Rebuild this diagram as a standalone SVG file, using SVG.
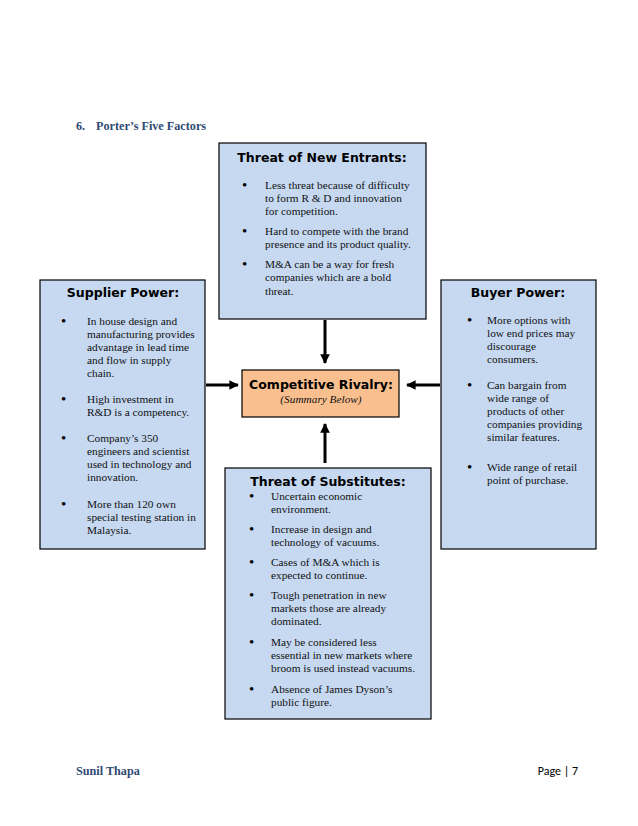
<svg xmlns="http://www.w3.org/2000/svg" width="638" height="826" viewBox="0 0 638 826">
<style>
.box{fill:#C6D9F1;stroke:#000;stroke-width:1.2}
.rival{fill:#F9BF8F;stroke:#000;stroke-width:1.2}
.hd{font-family:"DejaVu Sans",Verdana,sans-serif;font-weight:bold;font-size:12.5px;fill:#000;text-anchor:middle}
.tx{font-family:"Liberation Serif","Times New Roman",serif;font-size:11.3px;fill:#111}
.bl{font-family:"Liberation Serif","Times New Roman",serif;font-size:15px;fill:#000}
.ttl{font-family:"Liberation Serif","Times New Roman",serif;font-weight:bold;font-size:12.2px;fill:#2E4A72}
.conn{stroke:#000;stroke-width:3;fill:none}
</style>
<defs>
<marker id="ah" viewBox="0 0 10 10" refX="9" refY="5" markerWidth="3.2" markerHeight="3.2" orient="auto" markerUnits="strokeWidth">
<path d="M0,0 L10,5 L0,10 z" fill="#000"/>
</marker>
</defs>
<rect width="638" height="826" fill="#fff"/>
<text class="ttl" x="76" y="130">6.<tspan x="96">Porter’s Five Factors</tspan></text>

<g id="connectors">
<line class="conn" x1="325" y1="320" x2="325" y2="363" marker-end="url(#ah)"/>
<line class="conn" x1="206" y1="385" x2="238" y2="385" marker-end="url(#ah)"/>
<line class="conn" x1="440" y1="385" x2="407" y2="385" marker-end="url(#ah)"/>
<line class="conn" x1="325" y1="463" x2="325" y2="424" marker-end="url(#ah)"/>
</g>

<g id="new-entrants">
<rect class="box" x="219" y="143" width="207" height="176"/>
<text class="hd" x="322" y="162">Threat of New Entrants:</text>
<text class="bl" x="242" y="190">•</text>
<text class="tx" x="265" y="189">Less threat because of difficulty</text>
<text class="tx" x="265" y="202">to form R &amp; D and innovation</text>
<text class="tx" x="265" y="215">for competition.</text>
<text class="bl" x="242" y="236">•</text>
<text class="tx" x="265" y="235">Hard to compete with the brand</text>
<text class="tx" x="265" y="248">presence and its product quality.</text>
<text class="bl" x="242" y="269">•</text>
<text class="tx" x="265" y="268">M&amp;A can be a way for fresh</text>
<text class="tx" x="265" y="281">companies which are a bold</text>
<text class="tx" x="265" y="295">threat.</text>
</g>

<g id="supplier">
<rect class="box" x="40" y="280" width="165" height="269"/>
<text class="hd" x="123" y="297">Supplier Power:</text>
<text class="bl" x="61" y="326">•</text>
<text class="tx" x="87" y="325">In house design and</text>
<text class="tx" x="87" y="338">manufacturing provides</text>
<text class="tx" x="87" y="351">advantage in lead time</text>
<text class="tx" x="87" y="364">and flow in supply</text>
<text class="tx" x="87" y="377">chain.</text>
<text class="bl" x="61" y="404">•</text>
<text class="tx" x="87" y="403">High investment in</text>
<text class="tx" x="87" y="416">R&amp;D is a competency.</text>
<text class="bl" x="61" y="443">•</text>
<text class="tx" x="87" y="442">Company’s 350</text>
<text class="tx" x="87" y="455">engineers and scientist</text>
<text class="tx" x="87" y="468">used in technology and</text>
<text class="tx" x="87" y="481">innovation.</text>
<text class="bl" x="61" y="509">•</text>
<text class="tx" x="87" y="508">More than 120 own</text>
<text class="tx" x="87" y="521">special testing station in</text>
<text class="tx" x="87" y="534">Malaysia.</text>
</g>

<g id="buyer">
<rect class="box" x="441" y="280" width="155" height="269"/>
<text class="hd" x="518" y="297">Buyer Power:</text>
<text class="bl" x="467" y="325">•</text>
<text class="tx" x="487" y="324">More options with</text>
<text class="tx" x="487" y="337">low end prices may</text>
<text class="tx" x="487" y="350">discourage</text>
<text class="tx" x="487" y="363">consumers.</text>
<text class="bl" x="467" y="390">•</text>
<text class="tx" x="487" y="389">Can bargain from</text>
<text class="tx" x="487" y="402">wide range of</text>
<text class="tx" x="487" y="415">products of other</text>
<text class="tx" x="487" y="428">companies providing</text>
<text class="tx" x="487" y="441">similar features.</text>
<text class="bl" x="467" y="472">•</text>
<text class="tx" x="487" y="471">Wide range of retail</text>
<text class="tx" x="487" y="484">point of purchase.</text>
</g>

<g id="rivalry">
<rect class="rival" x="242" y="370" width="157" height="47"/>
<text class="hd" x="321" y="389">Competitive Rivalry:</text>
<text class="tx" x="321" y="403" text-anchor="middle" font-style="italic">(Summary Below)</text>
</g>

<g id="substitutes">
<rect class="box" x="225" y="468" width="206" height="251"/>
<text class="hd" x="328" y="486">Threat of Substitutes:</text>
<text class="bl" x="249" y="501">•</text>
<text class="tx" x="271" y="500">Uncertain economic</text>
<text class="tx" x="271" y="513">environment.</text>
<text class="bl" x="249" y="534">•</text>
<text class="tx" x="271" y="533">Increase in design and</text>
<text class="tx" x="271" y="546">technology of vacuums.</text>
<text class="bl" x="249" y="567">•</text>
<text class="tx" x="271" y="566">Cases of M&amp;A which is</text>
<text class="tx" x="271" y="579">expected to continue.</text>
<text class="bl" x="249" y="600">•</text>
<text class="tx" x="271" y="599">Tough penetration in new</text>
<text class="tx" x="271" y="612">markets those are already</text>
<text class="tx" x="271" y="625">dominated.</text>
<text class="bl" x="249" y="647">•</text>
<text class="tx" x="271" y="646">May be considered less</text>
<text class="tx" x="271" y="659">essential in new markets where</text>
<text class="tx" x="271" y="672">broom is used instead vacuums.</text>
<text class="bl" x="249" y="694">•</text>
<text class="tx" x="271" y="693">Absence of James Dyson’s</text>
<text class="tx" x="271" y="706">public figure.</text>
</g>

<text class="ttl" x="76" y="775">Sunil Thapa</text>
<text x="578" y="775" text-anchor="end" font-family="Carlito,'Liberation Sans',sans-serif" font-size="12px" fill="#000">Page | 7</text>
</svg>
